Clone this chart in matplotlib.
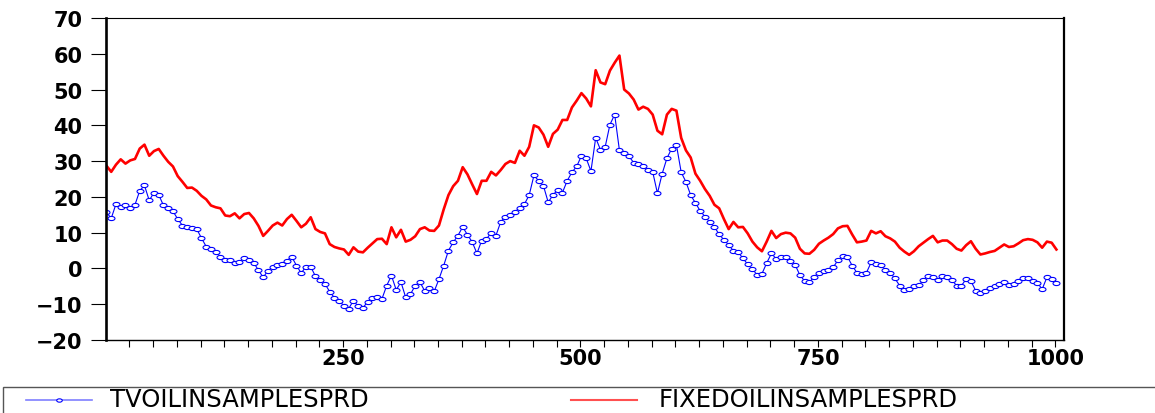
import numpy as np
import matplotlib
matplotlib.use("Agg")
import matplotlib.pyplot as plt
from matplotlib.path import Path
from matplotlib.transforms import Affine2D
from matplotlib.lines import Line2D
from matplotlib.patches import Rectangle

plt.rcParams['font.family'] = ['DejaVu Sans']

# observation index (every 5th observation)
obs = np.arange(1, 1006, 5)

# time-varying model spread
tv_spread = [
    15.7, 14.0, 18.0, 17.3, 17.8, 17.0, 17.8, 21.7, 23.2, 19.0,
    21.2, 20.6, 17.6, 16.9, 16.0, 13.8, 12.0, 11.5, 11.4, 11.0,
    8.5, 6.1, 5.3, 4.6, 3.3, 2.4, 2.5, 1.5, 1.7, 3.0,
    2.3, 1.6, -0.5, -2.5, -0.6, 0.3, 0.9, 1.2, 2.2, 3.3,
    0.8, -1.3, 0.5, 0.5, -2.2, -3.2, -4.3, -6.5, -8.2, -9.0,
    -10.5, -11.2, -9.0, -10.6, -11.0, -9.3, -8.3, -8.0, -8.5, -4.8,
    -2.0, -6.0, -3.8, -8.1, -7.2, -4.8, -3.8, -6.3, -5.4, -6.4,
    -3.0, 0.8, 5.0, 7.3, 9.2, 11.6, 9.4, 7.4, 4.2, 7.8,
    8.2, 10.0, 9.2, 13.0, 14.5, 15.0, 15.8, 17.0, 18.0, 20.5,
    26.0, 24.5, 23.1, 18.5, 20.5, 22.0, 21.2, 24.5, 26.9, 28.5,
    31.5, 30.8, 27.2, 36.5, 33.2, 34.0, 40.2, 43.0, 33.0, 32.2,
    31.3, 29.6, 29.3, 28.5, 27.6, 27.0, 21.0, 26.5, 30.8, 33.5,
    34.5, 26.9, 24.2, 20.5, 18.3, 16.1, 14.5, 13.0, 11.6, 9.5,
    8.0, 6.6, 4.9, 4.6, 2.8, 1.2, -0.2, -1.8, -1.5, 1.5,
    4.2, 2.7, 3.1, 3.1, 2.2, 1.0, -1.9, -3.5, -3.9, -2.3,
    -1.2, -0.8, -0.4, 0.3, 2.3, 3.4, 3.3, 0.8, -1.2, -1.6,
    -1.2, 1.7, 1.3, 0.9, -0.3, -1.2, -2.8, -4.8, -6.0, -5.8,
    -5.0, -4.7, -3.3, -2.0, -2.5, -3.3, -2.1, -2.3, -3.3, -4.8,
    -4.8, -3.0, -3.5, -6.2, -7.0, -6.2, -5.5, -4.9, -4.3, -3.9,
    -4.6, -4.4, -3.6, -2.6, -2.8, -3.4, -4.0, -5.8, -2.5, -3.0,
    -4.1,
]

# fixed-coefficient model spread
fixed_spread = [
    28.7, 27.0, 29.0, 30.5, 29.3, 30.2, 30.6, 33.5, 34.6, 31.5,
    32.8, 33.4, 31.5, 29.8, 28.5, 25.8, 24.2, 22.5, 22.6, 21.7,
    20.3, 19.3, 17.6, 17.1, 16.8, 14.8, 14.6, 15.4, 14.0, 15.2,
    15.5, 14.0, 11.9, 9.1, 10.5, 12.0, 12.8, 12.0, 13.8, 15.0,
    13.3, 11.5, 12.5, 14.3, 11.0, 10.2, 9.8, 6.8, 6.0, 5.6,
    5.3, 3.8, 5.9, 4.7, 4.5, 5.8, 7.0, 8.2, 8.3, 6.8,
    11.5, 8.7, 10.8, 7.5, 8.0, 9.0, 11.0, 11.5, 10.6, 10.5,
    12.0, 16.5, 20.5, 23.0, 24.5, 28.3, 26.3, 23.5, 20.8, 24.5,
    24.5, 27.0, 26.0, 27.5, 29.2, 30.0, 29.5, 32.9, 31.5, 34.0,
    40.0, 39.4, 37.4, 34.0, 37.6, 38.8, 41.5, 41.5, 45.0, 46.9,
    49.0, 47.5, 45.3, 55.4, 52.0, 51.5, 55.3, 57.5, 59.5, 50.0,
    48.9, 47.2, 44.4, 45.2, 44.6, 43.0, 38.5, 37.5, 43.0, 44.6,
    44.1, 36.5, 33.0, 31.0, 26.5, 24.5, 22.2, 20.3, 17.8, 16.8,
    13.8, 11.0, 13.0, 11.5, 11.6, 9.8, 7.5, 5.9, 4.8, 7.5,
    10.5, 8.5, 9.6, 10.0, 9.8, 8.6, 5.5, 4.2, 4.1, 5.2,
    6.9, 7.8, 8.6, 9.6, 11.2, 11.8, 11.9, 9.5, 7.3, 7.5,
    7.8, 10.5, 9.8, 10.4, 9.0, 8.4, 7.5, 5.8, 4.7, 3.8,
    4.8, 6.2, 7.2, 8.2, 9.1, 7.3, 7.8, 7.8, 6.8, 5.5,
    5.0, 6.5, 7.6, 5.5, 3.9, 4.2, 4.6, 4.9, 5.8, 6.7,
    6.0, 6.2, 7.0, 7.9, 8.2, 8.0, 7.3, 5.8, 7.5, 7.2,
    5.3,
]

series_names = ["TVOILINSAMPLESPRD", "FIXEDOILINSAMPLESPRD"]
y_ticks = list(range(-20, 71, 10))
x_labels = [250, 500, 750, 1000]

W, H = 1155, 414
fig = plt.figure(figsize=(W / 100, H / 100), dpi=100)
ax = fig.add_axes([106 / W, 1 - 341 / H, (1064 - 106) / W, (341 - 19) / H])

# flat open ellipse used as the point marker
ellipse = Path.unit_circle().transformed(Affine2D().scale(1.0, 0.6))

ax.plot(obs, tv_spread, color="#0000FF", lw=0.8, marker=ellipse,
        markersize=5, markerfacecolor="white", markeredgecolor="#0000FF",
        markeredgewidth=0.8)
ax.plot(obs, fixed_spread, color="#FF0000", lw=1.9)

ax.set_xlim(0.5, 1009)
ax.set_ylim(-20, 70)
ax.set_yticks(y_ticks)
ax.set_xticks(x_labels)
ax.set_xticks(np.arange(25, 1001, 25), minor=True)

ax.tick_params(axis="y", direction="out", length=11, width=0.8,
               pad=6, labelsize=15, colors="black")
ax.tick_params(axis="x", which="both", direction="out", length=5,
               width=0.8, pad=1, labelsize=15, colors="black")
for lbl in ax.get_xticklabels() + ax.get_yticklabels():
    lbl.set_fontweight("bold")

ax.spines["left"].set_linewidth(1.9)
ax.spines["right"].set_linewidth(1.6)
ax.spines["top"].set_linewidth(0.8)
ax.spines["bottom"].set_linewidth(1.0)

# legend strip along the bottom edge
fy = lambda py: 1 - py / H
fx = lambda px: px / W
fig.patches.append(Rectangle((fx(3), fy(420)), fx(1160) - fx(3), fy(388) - fy(420),
                             transform=fig.transFigure, fill=False,
                             edgecolor="#555555", lw=1.0, clip_on=False))
ly = fy(401)
fig.lines.append(Line2D([fx(26), fx(59), fx(92)], [ly, ly, ly],
                        transform=fig.transFigure, color="#7F7FFF", lw=1.2,
                        marker=ellipse, markevery=[1], markersize=4,
                        markerfacecolor="white", markeredgecolor="#0000FF",
                        markeredgewidth=0.8))
fig.lines.append(Line2D([fx(571), fx(637)], [ly, ly],
                        transform=fig.transFigure, color="#FF5050", lw=1.5))
fig.text(fx(110), fy(400), series_names[0], va="center", ha="left", fontsize=17.5)
fig.text(fx(659), fy(400), series_names[1], va="center", ha="left", fontsize=17.5)

fig.savefig("out.png", dpi=100, facecolor="white")
